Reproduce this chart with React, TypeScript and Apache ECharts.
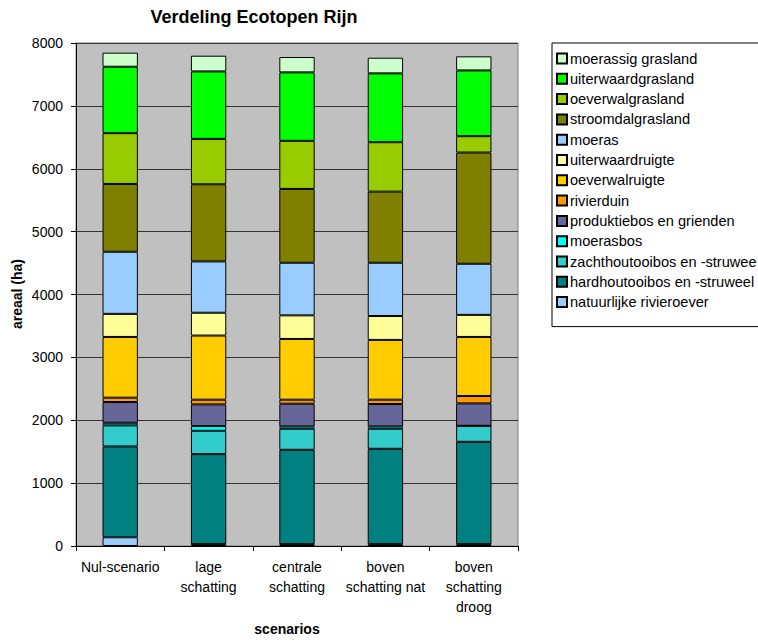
import React, { useEffect, useRef } from "react";
import * as echarts from "echarts";

// Scenarios on the category axis
const categories = [
  "Nul-scenario",
  "lage\nschatting",
  "centrale\nschatting",
  "boven\nschatting nat",
  "boven\nschatting\ndroog",
];

// Ecotope areas (ha) per scenario, stacked from the bottom up
const natuurlijkeRivieroever = [138, 30, 30, 30, 30];
const hardhoutooibos = [1445, 1431, 1500, 1516, 1627];
const zachthoutooibos = [335, 372, 335, 319, 255];
const moerasbos = [42, 74, 37, 37, 0];
const produktiebos = [330, 345, 361, 356, 356];
const rivierduin = [69, 75, 64, 69, 117];
const oeverwalruigte = [966, 1020, 966, 951, 940];
const uiterwaardruigte = [367, 363, 375, 380, 351];
const moeras = [988, 816, 837, 847, 813];
const stroomdalgrasland = [1078, 1227, 1174, 1131, 1769];
const oeverwalgrasland = [808, 722, 765, 786, 260];
const uiterwaardgrasland = [1057, 1073, 1089, 1095, 1046];
const moerassigGrasland = [223, 250, 244, 249, 224];

const yTicks = { min: 0, max: 8000, interval: 1000 };

const stackSeries = [
  { name: "natuurlijke rivieroever", data: natuurlijkeRivieroever, color: "#99CCFF" },
  { name: "hardhoutooibos en -struweel", data: hardhoutooibos, color: "#008080" },
  { name: "zachthoutooibos en -struwee", data: zachthoutooibos, color: "#33CCCC" },
  { name: "moerasbos", data: moerasbos, color: "#00FFFF" },
  { name: "produktiebos en grienden", data: produktiebos, color: "#666699" },
  { name: "rivierduin", data: rivierduin, color: "#FF9900" },
  { name: "oeverwalruigte", data: oeverwalruigte, color: "#FFCC00" },
  { name: "uiterwaardruigte", data: uiterwaardruigte, color: "#FFFF99" },
  { name: "moeras", data: moeras, color: "#99CCFF" },
  { name: "stroomdalgrasland", data: stroomdalgrasland, color: "#808000" },
  { name: "oeverwalgrasland", data: oeverwalgrasland, color: "#99CC00" },
  { name: "uiterwaardgrasland", data: uiterwaardgrasland, color: "#00FF00" },
  { name: "moerassig grasland", data: moerassigGrasland, color: "#CCFFCC" },
];

const FONT = "'Liberation Sans', Arial, Helvetica, sans-serif";

export default function App() {
  const ref = useRef<HTMLDivElement>(null);

  useEffect(() => {
    document.body.style.margin = "0";
    if (!ref.current) return;
    const chart = echarts.init(ref.current, null, { renderer: "svg" });

    chart.setOption({
      animation: false,
      backgroundColor: "#FFFFFF",
      textStyle: { fontFamily: FONT },
      grid: {
        left: 76,
        right: 240,
        top: 43,
        bottom: 96,
        show: true,
        backgroundColor: "#C0C0C0",
        borderColor: "#808080",
        borderWidth: 1,
      },
      legend: {
        orient: "vertical",
        left: 552,
        top: 43,
        data: stackSeries.map((s) => s.name).reverse(),
        itemWidth: 10,
        itemHeight: 10,
        itemGap: 5.3,
        padding: [8, 12, 17, 4],
        borderColor: "#000000",
        borderWidth: 1,
        icon: "rect",
        textStyle: {
          fontFamily: FONT,
          fontSize: 14.6,
          lineHeight: 15,
          color: "#000000",
          padding: [0, 0, 0, -2],
        },
      },
      xAxis: {
        type: "category",
        data: categories,
        axisLine: { lineStyle: { color: "#000000", width: 1 } },
        axisTick: { show: true, length: 5, lineStyle: { color: "#000000" } },
        axisLabel: {
          color: "#000000",
          fontFamily: FONT,
          fontSize: 14,
          lineHeight: 20,
          margin: 11,
          interval: 0,
        },
      },
      yAxis: {
        type: "value",
        min: yTicks.min,
        max: yTicks.max,
        interval: yTicks.interval,
        axisLine: { show: true, lineStyle: { color: "#000000", width: 1 } },
        axisTick: { show: true, length: 5, lineStyle: { color: "#000000" } },
        axisLabel: {
          color: "#000000",
          fontFamily: FONT,
          fontSize: 14,
          margin: 13,
          formatter: (v: number) => String(v),
        },
        splitLine: { show: true, lineStyle: { color: "#333333", width: 1 } },
      },
      series: stackSeries.map((s) => ({
        name: s.name,
        type: "bar",
        stack: "areaal",
        data: s.data,
        barWidth: "40%",
        itemStyle: { color: s.color, borderColor: "#000000", borderWidth: 1 },
        emphasis: { disabled: true },
      })),
      graphic: [
        {
          type: "text",
          x: 254,
          y: 17,
          style: {
            text: "Verdeling Ecotopen Rijn",
            font: `bold 18px ${FONT}`,
            fill: "#000000",
            align: "center",
            verticalAlign: "middle",
          },
        },
        {
          type: "text",
          x: 17,
          y: 294,
          rotation: Math.PI / 2,
          style: {
            text: "areaal (ha)",
            font: `bold 14px ${FONT}`,
            fill: "#000000",
            align: "center",
            verticalAlign: "middle",
          },
        },
        {
          type: "text",
          x: 287,
          y: 629,
          style: {
            text: "scenarios",
            font: `bold 14px ${FONT}`,
            fill: "#000000",
            align: "center",
            verticalAlign: "middle",
          },
        },
      ],
    });

    return () => chart.dispose();
  }, []);

  return <div ref={ref} style={{ width: 758, height: 642 }} />;
}
